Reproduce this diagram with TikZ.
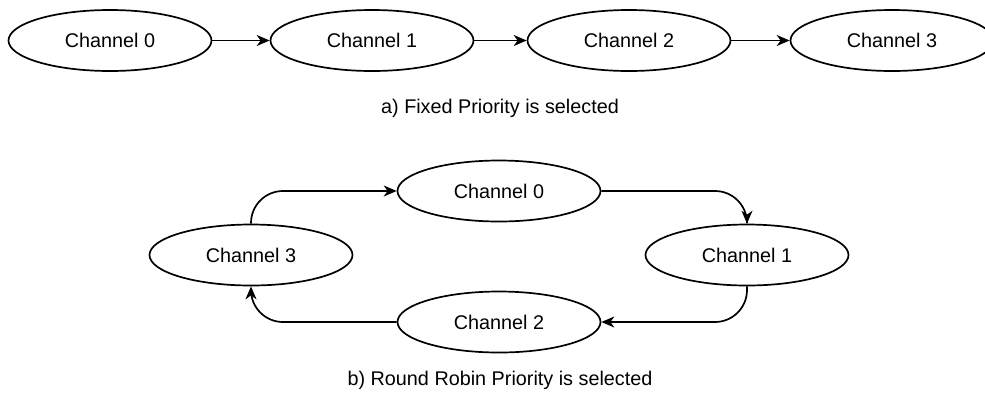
\documentclass[tikz,border=0pt]{standalone}
\usepackage{fontspec}
\setmainfont{Liberation Sans}
\usetikzlibrary{arrows.meta,shapes.geometric}
\tikzset{
  chan/.style={ellipse, draw=black, line width=1.7pt, minimum width=203pt, minimum height=61pt, inner sep=0pt, font=\fontsize{19.8}{24}\selectfont},
  conn/.style={line width=1.7pt, -{Stealth[length=13pt, width=11pt, inset=4pt]}},
  caption/.style={font=\fontsize{19.8}{24}\selectfont, inner sep=0pt}
}
\begin{document}
\begin{tikzpicture}[x=1pt, y=-1pt]
\useasboundingbox (0,0) rectangle (985,392);
% a) fixed priority
\node[chan] (a0) at (110,40.5) {Channel 0};
\node[chan] (a1) at (372,40.5) {Channel 1};
\node[chan] (a2) at (629,40.5) {Channel 2};
\node[chan] (a3) at (892,40.5) {Channel 3};
\draw[conn] (a0.east) -- (a1.west);
\draw[conn] (a1.east) -- (a2.west);
\draw[conn] (a2.east) -- (a3.west);
\node[caption] (capa) at (500,108) {a) Fixed Priority is selected};
% b) round robin
\node[chan] (b0) at (499,191) {Channel 0};
\node[chan] (b1) at (747,255) {Channel 1};
\node[chan] (b2) at (499,322) {Channel 2};
\node[chan] (b3) at (251,255) {Channel 3};
\draw[conn, rounded corners=32pt] (b3.north) |- (b0.west);
\draw[conn, rounded corners=32pt] (b0.east) -| (b1.north);
\draw[conn, rounded corners=32pt] (b1.south) |- (b2.east);
\draw[conn, rounded corners=32pt] (b2.west) -| (b3.south);
\node[caption] (capb) at (500,380) {b) Round Robin Priority is selected};
\end{tikzpicture}
\end{document}
